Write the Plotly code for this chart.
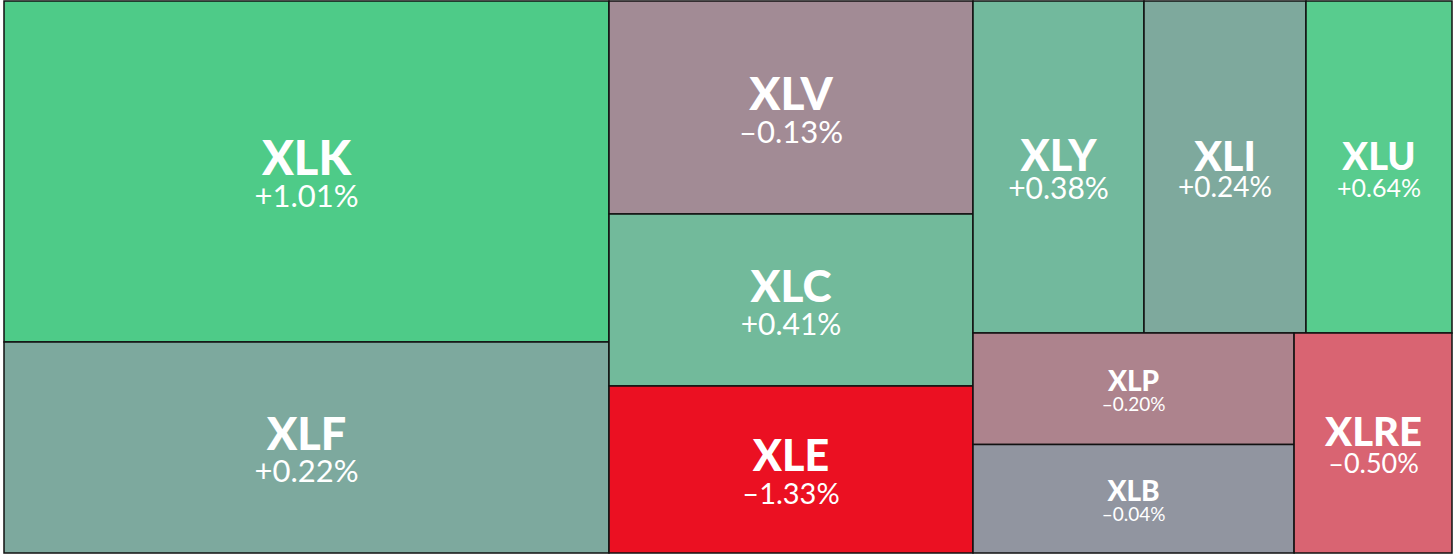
import plotly.graph_objects as go

tickers = ["XLK", "XLF", "XLV", "XLC", "XLE", "XLY", "XLI", "XLU", "XLP", "XLB", "XLRE"]
weights = [206305, 127655, 77532, 62608, 60788, 56772, 53784, 48472, 35840, 34800, 34740]
changes = ["+1.01%", "+0.22%", "\u20130.13%", "+0.41%", "\u20131.33%", "+0.38%", "+0.24%", "+0.64%",
           "\u20130.20%", "\u20130.04%", "\u20130.50%"]
colors = ["#4ECB88", "#7DA99E", "#A28B95", "#72BA9B", "#EB1022", "#72B99D", "#7EA99D", "#58CC8E",
          "#AD838D", "#9195A0", "#D96472"]
ticker_sizes = [47, 45, 46, 44, 43, 43, 41, 38, 28, 28, 40]
pct_sizes = [31, 31, 31, 30, 29, 30, 28, 25, 19, 19, 27]
line_sizes = [24, 24, 25, 25, 25, 21.5, 20.5, 20.5, 15.5, 15.5, 21.5]

texts = [f"<span style='font-size:{ts}px;font-weight:900'>{t}</span><br>"
         f"<span style='font-size:{ps}px'>{c}</span>"
         for t, c, ts, ps in zip(tickers, changes, ticker_sizes, pct_sizes)]

fig = go.Figure(go.Treemap(
    labels=tickers,
    parents=[""] * len(tickers),
    values=weights,
    text=texts,
    textinfo="text",
    texttemplate="%{text}",
    textposition="middle center",
    textfont=dict(family="Lato, sans-serif", color="white", size=line_sizes),
    marker=dict(colors=colors, line=dict(color="#111111", width=1.5), pad=dict(t=0, l=0, r=0, b=0)),
    tiling=dict(packing="squarify", squarifyratio=1.618034, pad=0),
    pathbar=dict(visible=False),
    sort=True,
    hoverinfo="label",
))

fig.update_layout(
    width=1456, height=558,
    margin=dict(l=4, r=4, t=1, b=5),
    paper_bgcolor="white",
)
fig.write_html("out.html", config={"displayModeBar": False},
               post_script="document.body.style.margin='0';")
